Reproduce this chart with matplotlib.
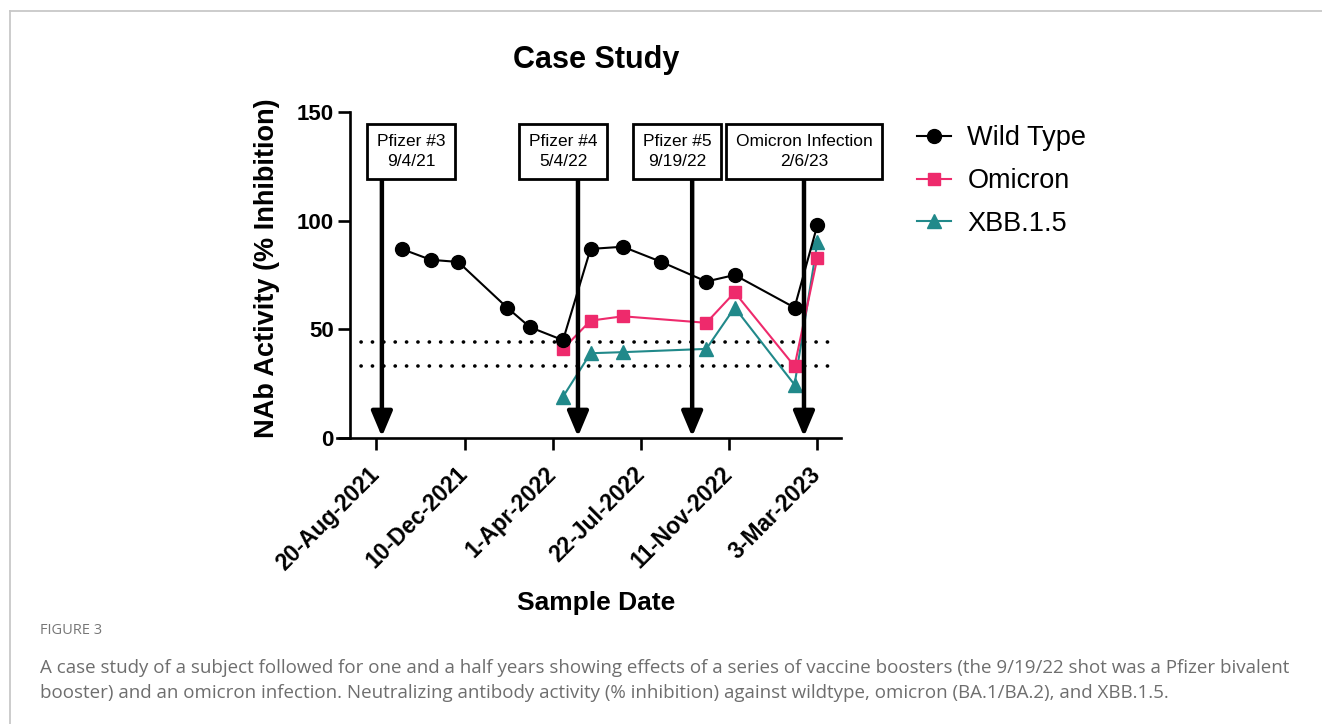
import numpy as np
import matplotlib
matplotlib.use("Agg")
import matplotlib.pyplot as plt
import matplotlib.dates as mdates
from matplotlib.lines import Line2D

# datos
fechas_wt = ["2021-09-21", "2021-10-28", "2021-12-02", "2022-02-02", "2022-03-03",
             "2022-04-14", "2022-05-19", "2022-06-29", "2022-08-17", "2022-10-13",
             "2022-11-18", "2023-02-02", "2023-03-03"]
wild_type = [87, 82, 81, 60, 51, 45, 87, 88, 81, 72, 75, 60, 98]

fechas_var = ["2022-04-14", "2022-05-19", "2022-06-29", "2022-10-13",
              "2022-11-18", "2023-02-02", "2023-03-03"]
omicron = [41, 54, 56, 53, 67, 33, 83]
xbb15 = [19, 39, 39.5, 41, 60, 24.5, 90]

umbrales = [44, 33]

eventos = ["Pfizer #3\n9/4/21", "Pfizer #4\n5/4/22", "Pfizer #5\n9/19/22",
           "Omicron Infection\n2/6/23"]
fechas_flecha = ["2021-08-27", "2022-05-03", "2022-09-25", "2023-02-14"]
fechas_caja = ["2021-10-03", "2022-04-14", "2022-09-06", "2023-02-14"]

ticks_fecha = ["2021-08-20", "2021-12-10", "2022-04-01", "2022-07-22",
               "2022-11-11", "2023-03-03"]
ticks_texto = ["20-Aug-2021", "10-Dec-2021", "1-Apr-2022", "22-Jul-2022",
               "11-Nov-2022", "3-Mar-2023"]


def num(fechas):
    return mdates.date2num(np.array(fechas, dtype="datetime64[D]"))


W, H = 1322, 724
fig = plt.figure(figsize=(W / 100, H / 100), dpi=100)
fig.patch.set_facecolor("white")

# marco gris de la pagina
fig.add_artist(Line2D([10 / W, 10 / W], [0, 1 - 11 / H], color="#c8c8c8", lw=1.3))
fig.add_artist(Line2D([10 / W, 1], [1 - 11 / H, 1 - 11 / H], color="#c8c8c8", lw=1.3))

ax = fig.add_axes([337 / W, 1 - 438 / H, (841 - 337) / W, (438 - 112) / H])
ax.set_xlim(num(["2021-07-01"])[0], num(["2023-04-02"])[0])
ax.set_ylim(0, 150)

fuente = "Liberation Sans"
rosa = "#EE2A6C"
verde = "#21898A"

ax.plot(num(fechas_var), xbb15, color=verde, lw=1.5, marker="^", ms=9.5,
        label="XBB.1.5", zorder=3)
ax.plot(num(fechas_var), omicron, color=rosa, lw=1.5, marker="s", ms=9,
        label="Omicron", zorder=4)
ax.plot(num(fechas_wt), wild_type, color="black", lw=1.5, marker="o", ms=10,
        label="Wild Type", zorder=5)

for u in umbrales:
    ax.hlines(u, num(["2021-07-31"])[0], num(["2023-03-23"])[0], colors="black",
              linestyles=(0, (0.05, 3.1)), lw=2.6, capstyle="round", zorder=2)

for texto, fa, fc in zip(eventos, num(fechas_flecha), num(fechas_caja)):
    ax.annotate("", xy=(fa, 0.6), xytext=(fa, 118.7),
                arrowprops=dict(arrowstyle="-|>,head_length=0.95,head_width=0.4",
                                lw=3.2, color="black", shrinkA=0, shrinkB=0,
                                mutation_scale=16),
                zorder=6, annotation_clip=False)
    ax.text(fc, 131.8, texto, ha="center", va="center", fontsize=12.5,
            family=fuente, linespacing=1.45, zorder=7,
            bbox=dict(boxstyle="square,pad=0.55", fc="white", ec="black", lw=2))

# ejes estilo prism
ax.spines["top"].set_visible(False)
ax.spines["right"].set_visible(False)
ax.spines["left"].set_position(("data", num(["2021-07-17"])[0]))
ax.spines["left"].set_bounds(0, 150)
for s in ["left", "bottom"]:
    ax.spines[s].set_linewidth(1.9)

ax.set_yticks([0, 50, 100, 150])
ax.set_xticks(num(ticks_fecha))
ax.set_xticklabels(ticks_texto, rotation=45, ha="right", va="center",
                   rotation_mode="anchor")
ax.tick_params(axis="both", length=8.5, width=1.9)
ax.tick_params(axis="x", pad=15, labelsize=16.5)
ax.tick_params(axis="y", pad=3, labelsize=16)
for lab in ax.get_xticklabels() + ax.get_yticklabels():
    lab.set_fontweight("bold")
    lab.set_family(fuente)

fig.text(596 / W, 1 - 60 / H, "Case Study", ha="center", va="center",
         fontsize=22, fontweight="bold", family=fuente)
fig.text(267 / W, 1 - 268 / H, "NAb Activity (% Inhibition)", ha="center",
         va="center", rotation=90, fontsize=19.5, fontweight="bold", family=fuente)
fig.text(596 / W, 1 - 603 / H, "Sample Date", ha="center", va="center",
         fontsize=19, fontweight="bold", family=fuente)

h, l = ax.get_legend_handles_labels()
leg = fig.legend(h[::-1], l[::-1], loc="upper left", bbox_to_anchor=(893 / W, 1 - 101 / H),
                 frameon=False, prop=dict(family=fuente, size=19.5),
                 handlelength=1.25, labelspacing=0.62, handletextpad=0.6)

# pie de figura
fig.text(40 / W, 1 - 631 / H, "FIGURE 3", ha="left", va="center", fontsize=10.5,
         color="#777777", family="Open Sans")
fig.text(40 / W, 1 - 668 / H,
         "A case study of a subject followed for one and a half years showing effects of a "
         "series of vaccine boosters (the 9/19/22 shot was a Pfizer bivalent",
         ha="left", va="center", fontsize=13.5, color="#6e6e6e", family="Open Sans")
fig.text(40 / W, 1 - 693 / H,
         "booster) and an omicron infection. Neutralizing antibody activity (% inhibition) "
         "against wildtype, omicron (BA.1/BA.2), and XBB.1.5.",
         ha="left", va="center", fontsize=13.5, color="#6e6e6e", family="Open Sans")

fig.savefig("out.png", dpi=100, facecolor="white")
